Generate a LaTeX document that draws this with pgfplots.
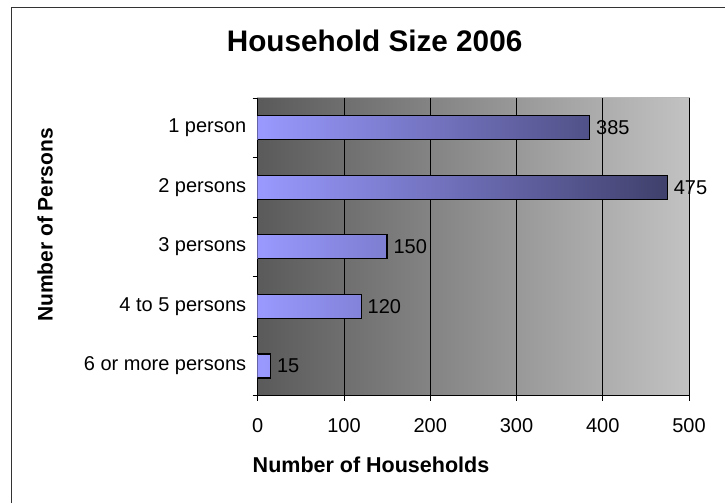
\documentclass[border=0pt]{standalone}
\usepackage{fontspec}
\setmainfont{Liberation Sans}
\usepackage{pgfplots}
\pgfplotsset{compat=1.18}
\definecolor{bgL}{RGB}{90,90,90}
\definecolor{bgR}{RGB}{194,194,194}
\definecolor{barL}{RGB}{153,153,255}
\definecolor{barR}{RGB}{64,64,108}
\begin{document}
\begin{tikzpicture}[x=1pt,y=1pt]
\useasboundingbox (0,0) rectangle (725,503);
\draw[line width=1.5pt, color=black!80] (11.5,0) -- (11.5,495.5) -- (725,495.5);
\begin{axis}[
  at={(257.7pt,107.3pt)}, anchor=south west,
  scale only axis, width=431.3pt, height=297.7pt,
  xbar, bar width=24pt,
  xmin=0, xmax=500, ymin=-0.5, ymax=4.5,
  axis lines=left,
  axis line style={-, black, line width=1pt},
  axis background/.style={left color=bgL, right color=bgR, draw=gray!55, line width=1pt},
  xtick={0,100,...,500},
  ytick={0,1,2,3,4},
  yticklabels={6 or more persons, 4 to 5 persons, 3 persons, 2 persons, 1 person},
  minor xtick={0,100,...,500},
  minor ytick={-0.5,0.5,1.5,2.5,3.5,4.5},
  major tick length=0pt,
  minor tick length=5pt,
  tick align=outside,
  tick style={black, line width=0.8pt},
  xmajorgrids,
  grid style={black, line width=0.8pt},
  /pgf/number format/assume math mode=true,
  ticklabel style={font=\fontsize{20}{23}\selectfont},
  xticklabel style={yshift=-19pt},
  yticklabel style={xshift=-8pt},
  title={Household Size 2006},
  title style={at={(axis description cs:0.271,1.136)}, anchor=base, font=\bfseries\fontsize{29.7}{34}\selectfont},
  xlabel={Number of Households},
  xlabel style={at={(axis description cs:0.2627,-0.2563)}, anchor=base, font=\bfseries\fontsize{21.5}{25}\selectfont},
  ylabel={Number of Persons},
  ylabel style={at={(axis description cs:-0.493,0.573)}, anchor=center, font=\bfseries\fontsize{21}{24}\selectfont},
  nodes near coords,
  nodes near coords style={font=\fontsize{20}{23}\selectfont, black, anchor=west, xshift=2.5pt},
]
\addplot[draw=black, line width=1.2pt, left color=barL, right color=barR]
  coordinates {(385,4) (475,3) (150,2) (120,1) (15,0)};
\end{axis}
\end{tikzpicture}
\end{document}
